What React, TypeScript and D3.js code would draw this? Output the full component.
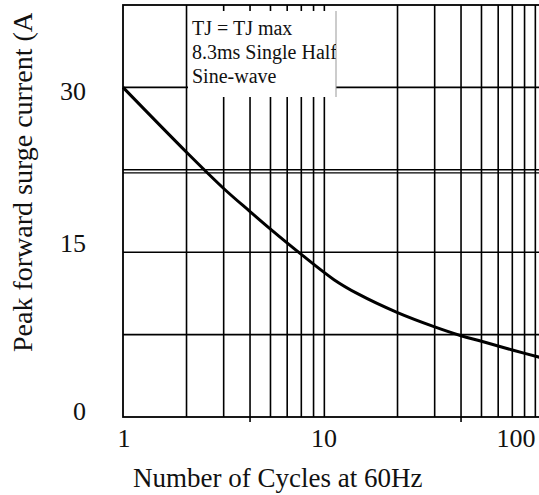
import * as d3 from 'd3';

// surge current vs number of cycles
const cycles = [1, 2, 3, 4, 5, 7, 10, 13, 20, 30, 40, 50, 70, 100];
const surge = [30, 24.1, 20.8, 18.7, 17.1, 14.8, 12.5, 11.2, 9.5, 8.2, 7.4, 6.9, 6.1, 5.3];

const xTicks = [1, 10, 100];
const yTicks = [0, 15, 30];
const xMinor = [2, 3, 4, 5, 6, 7, 8, 9, 20, 30, 40, 50, 60, 70, 80, 90];
const yGrid = [7.5, 15, 22.5, 30];
const legendLines = ['TJ = TJ max', '8.3ms Single Half', 'Sine-wave'];

const W = 539;
const H = 495;
const FONT = '"Liberation Serif", "Times New Roman", serif';

export default function App() {
  const x = d3.scaleLog().domain([1, 100]).range([123, 545]);
  const y = d3.scaleLinear().domain([0, 37.5]).range([417, 5]);

  const pts = cycles.map((c, i) => [x(c), y(surge[i])] as [number, number]);
  const line = d3.line().curve(d3.curveCatmullRom.alpha(0.5));

  const x0 = x(1);
  const x1 = x(100);
  const yTop = y(37.5);
  const yBot = y(0);

  // legend box sits between the 2 and 10 gridlines
  const box = { left: x(2) + 1.5, right: x(10) + 2, top: 11, bottom: 97 };

  // hand placed label nudges, as in the original
  const yNudge: Record<number, number> = { 0: 3, 15: 0, 30: 13 };
  const xNudge: Record<number, number> = { 1: 1, 10: -10, 100: -29 };

  return (
    <svg
      width={W}
      height={H}
      style={{ position: 'absolute', left: 0, top: 0, background: '#fff' }}
      fontFamily={FONT}
    >
      <defs>
        <clipPath id="legend-clip">
          <rect x={box.left} y={box.top} width={box.right - box.left} height={box.bottom - box.top} />
        </clipPath>
        <clipPath id="ytitle-clip">
          <rect x={0} y={13} width={60} height={H} />
        </clipPath>
      </defs>

      {xMinor.map((v) => (
        <line
          key={'v' + v}
          x1={x(v)}
          x2={x(v)}
          y1={yTop}
          y2={v === 4 || v === 40 ? yBot + 5 : yBot}
          stroke="#000"
          strokeWidth={1.6}
        />
      ))}

      {yGrid.map((v) => (
        <g key={'h' + v}>
          <line x1={x0} x2={x1} y1={y(v)} y2={y(v)} stroke="#000" strokeWidth={1.6} />
          {v === 22.5 && (
            <line x1={x0} x2={x1} y1={y(v) + 3} y2={y(v) + 3} stroke="#000" strokeWidth={1.3} />
          )}
        </g>
      ))}

      <rect
        x={x0}
        y={yTop}
        width={x1 - x0}
        height={yBot - yTop}
        fill="none"
        stroke="#000"
        strokeWidth={1.8}
      />

      <path d={line(pts) ?? ''} fill="none" stroke="#000" strokeWidth={3} />

      <rect
        x={box.left}
        y={box.top}
        width={box.right - box.left}
        height={box.bottom - box.top}
        fill="#fff"
      />
      <line x1={box.right} x2={box.right} y1={box.top} y2={box.bottom} stroke="#999" strokeWidth={1} />
      <g clipPath="url(#legend-clip)" fontSize={20} fill="#111">
        {legendLines.map((t, i) => (
          <text key={t} x={192} y={35 + i * 24}>
            {t}
          </text>
        ))}
      </g>

      {yTicks.map((v) => (
        <text key={'yt' + v} x={86} y={y(v) + yNudge[v]} textAnchor="end" fontSize={26} fill="#111">
          {v}
        </text>
      ))}
      {xTicks.map((v) => (
        <text key={'xt' + v} x={x(v) + xNudge[v]} y={447} textAnchor="middle" fontSize={26} fill="#111">
          {v}
        </text>
      ))}

      <text x={133} y={487} fontSize={27} fill="#111">
        Number of Cycles at 60Hz
      </text>
      <g clipPath="url(#ytitle-clip)">
        <text transform="translate(32,352) rotate(-90)" fontSize={28} fill="#111">
          Peak forward surge current (A)
        </text>
      </g>
    </svg>
  );
}
